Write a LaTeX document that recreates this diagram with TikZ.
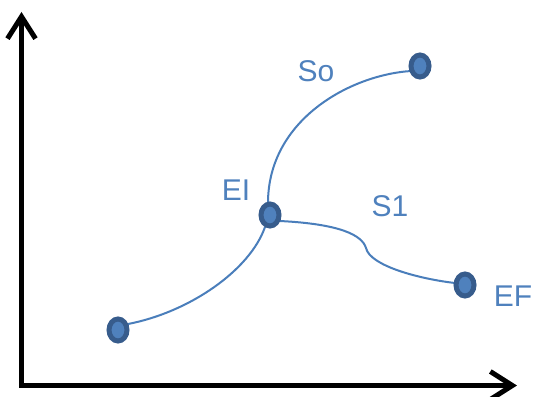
\documentclass[tikz,border=0pt]{standalone}
\usepackage{fontspec}
\setmainfont{Liberation Sans}
\usetikzlibrary{arrows.meta,shapes.geometric}
\definecolor{lineblue}{HTML}{4A7EBB}
\definecolor{dotborder}{HTML}{375C8C}
\definecolor{dotfill}{HTML}{4F81BD}
\definecolor{txtblue}{HTML}{4F81BD}
\begin{document}
\begin{tikzpicture}[x=1pt,y=-1pt,
  dot/.style={ellipse,draw=dotborder,fill=dotfill,line width=5pt,minimum width=18pt,minimum height=22pt,inner sep=0pt},
  lbl/.style={text=txtblue,font=\fontsize{30}{36}\selectfont,inner sep=0pt},
  axis/.style={line width=5pt,-{Straight Barb[length=22pt,width=28pt]}},
  curve/.style={draw=lineblue,line width=2pt}]
\useasboundingbox (0,0) rectangle (534,396);
% axes
\coordinate (O) at (21.5,385.5);
\coordinate (Ytip) at (21.5,12);
\coordinate (Xtip) at (517,385.5);
\draw[axis,line join=miter] (O) -- (Ytip);
\draw[axis] (19,385.5) -- (Xtip);
% curves
\coordinate (A) at (118,330);
\coordinate (B) at (270,215);
\coordinate (C) at (420,66);
\coordinate (D) at (465,285);
\draw[curve] (128,324) .. controls (190,312) and (250,270) .. (265,227);
\draw[curve] (268,203) .. controls (268,120) and (350,75) .. (411,71);
\draw[curve] (280,221) .. controls (340,224) and (362,235) .. (366,248)
  .. controls (370,266) and (420,279) .. (455,283);
% dots
\node[dot] (dA) at (A) {};
\node[dot] (dB) at (B) {};
\node[dot] (dC) at (C) {};
\node[dot] (dD) at (D) {};
% labels
\node[lbl] (lSo) at (316,71) {So};
\node[lbl] (lEI) at (236,190) {EI};
\node[lbl] (lS1) at (390,206) {S1};
\node[lbl] (lEF) at (513,296) {EF};
\end{tikzpicture}
\end{document}
